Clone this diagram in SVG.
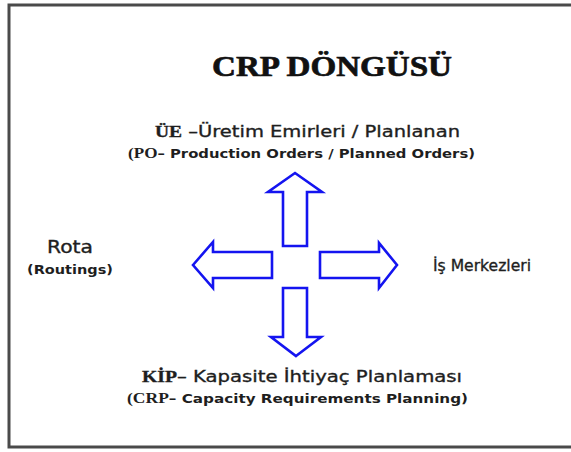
<svg xmlns="http://www.w3.org/2000/svg" width="571" height="452" viewBox="0 0 571 452">
  <style>
    .frame { fill: #ffffff; stroke: #4a4a4a; stroke-width: 3; }
    .title { font-family: "Liberation Serif", "Times New Roman", serif; font-weight: bold; font-size: 30px; fill: #111; stroke: #111; stroke-width: 0.7; }
    .lbl { font-family: "DejaVu Sans", Verdana, sans-serif; fill: #1e1e1e; stroke: #1e1e1e; stroke-width: 0.35; }
    .pre { font-family: "Liberation Serif", "Times New Roman", serif; font-weight: bold; }
    .main { font-size: 16px; }
    .big { font-size: 17px; }
    .sub { font-size: 13px; font-weight: bold; stroke-width: 0; }
    .sub .pre { font-size: 15px; }
    .arrow { fill: #ffffff; stroke: #1414f0; stroke-width: 2.6; stroke-linejoin: miter; }
  </style>

  <!-- page frame -->
  <rect class="frame" x="9" y="5" width="600" height="442"/>

  <g id="title">
    <text class="title" x="212" y="76" textLength="240" lengthAdjust="spacingAndGlyphs">CRP DÖNGÜSÜ</text>
  </g>

  <g id="node-orders">
    <text class="lbl main" x="155" y="137" textLength="305" lengthAdjust="spacingAndGlyphs"><tspan class="pre">ÜE</tspan> –Üretim Emirleri / Planlanan</text>
    <text class="lbl sub" x="128" y="158" textLength="347" lengthAdjust="spacingAndGlyphs"><tspan class="pre">(PO</tspan>– Production Orders / Planned Orders)</text>
  </g>

  <g id="node-routings">
    <text class="lbl big" x="47" y="253" textLength="46" lengthAdjust="spacingAndGlyphs">Rota</text>
    <text class="lbl sub" x="27" y="274" textLength="86" lengthAdjust="spacingAndGlyphs">(Routings)</text>
  </g>

  <g id="node-workcenters">
    <text class="lbl main" x="433" y="271" textLength="98" lengthAdjust="spacingAndGlyphs">İş Merkezleri</text>
  </g>

  <g id="node-crp">
    <text class="lbl main" x="142" y="382" textLength="320" lengthAdjust="spacingAndGlyphs"><tspan class="pre">KİP</tspan>– Kapasite İhtiyaç Planlaması</text>
    <text class="lbl sub" x="127" y="403" textLength="341" lengthAdjust="spacingAndGlyphs"><tspan class="pre">(CRP</tspan>– Capacity Requirements Planning)</text>
  </g>

  <g id="connectors">
    <!-- up -->
    <path class="arrow" d="M295,173 L322,192 L307,192 L307,246 L283,246 L283,192 L268,192 Z"/>
    <!-- left -->
    <path class="arrow" d="M193,265 L213,242 L213,252 L272,252 L272,278 L213,278 L213,288 Z"/>
    <!-- right -->
    <path class="arrow" d="M397,265 L379,288 L379,278 L320,278 L320,252 L379,252 L379,243 Z"/>
    <!-- down -->
    <path class="arrow" d="M296,356 L321,337 L307,337 L307,288 L283,288 L283,337 L271,337 Z"/>
  </g>
</svg>
